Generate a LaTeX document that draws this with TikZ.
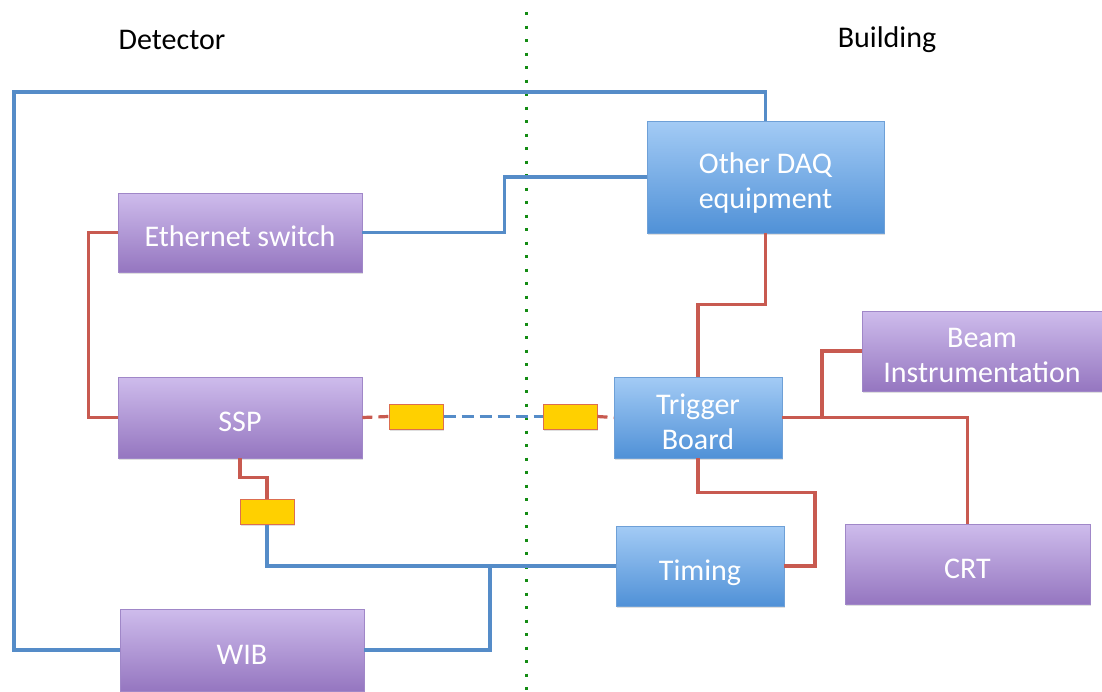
\documentclass[tikz,border=0pt]{standalone}
\usepackage{fontspec}
\setmainfont{Carlito}
\usetikzlibrary{shadows}

\definecolor{purpletop}{RGB}{206,188,236}
\definecolor{purplebot}{RGB}{149,118,192}
\definecolor{purpleedge}{RGB}{160,135,200}
\definecolor{bluetop}{RGB}{163,203,245}
\definecolor{bluebot}{RGB}{80,145,215}
\definecolor{blueedge}{RGB}{110,160,215}
\definecolor{linkred}{RGB}{200,90,80}
\definecolor{linkblue}{RGB}{85,140,200}
\definecolor{splitgreen}{RGB}{20,140,20}
\definecolor{convfill}{RGB}{255,208,0}
\definecolor{convedge}{RGB}{220,110,80}

% box captions sit slightly below the optical centre
\newcommand\boxtext[1]{\raisebox{-7pt}[\height][\depth]{\begin{tabular}{@{}c@{}}#1\end{tabular}}}

\tikzset{
  box/.style={rectangle, inner sep=0pt, text=white, align=center,
    font=\fontsize{30}{35}\selectfont,
    drop shadow={shadow xshift=1pt, shadow yshift=-2pt, opacity=0.25}},
  purplebox/.style={box, draw=purpleedge, line width=0.8pt,
    top color=purpletop, bottom color=purplebot},
  bluebox/.style={box, draw=blueedge, line width=0.8pt,
    top color=bluetop, bottom color=bluebot},
  converter/.style={rectangle, inner sep=0pt, minimum width=54pt, minimum height=25pt,
    fill=convfill, draw=convedge, line width=1pt,
    drop shadow={shadow xshift=1pt, shadow yshift=-1.5pt, opacity=0.25}},
  redlink/.style={draw=linkred, line width=3.2pt},
  bluelink/.style={draw=linkblue, line width=3.2pt},
  sidelabel/.style={font=\fontsize{30}{35}\selectfont, text=black},
}

\begin{document}
\begin{tikzpicture}[x=1pt, y=-1pt]
\useasboundingbox (0,0) rectangle (1102,691);

% side headings and the boundary between them
\node[sidelabel] (detlabel) at (172,40) {Detector};
\node[sidelabel] (bldlabel) at (887,40) {Building};
\draw[splitgreen, line width=3pt, dash pattern=on 3pt off 10.5pt] (526,12) -- (526,691);

% detector-side boards
\node[purplebox, minimum width=244pt, minimum height=79pt] (eth) at (240,232.5) {\boxtext{Ethernet switch}};
\node[purplebox, minimum width=244pt, minimum height=81pt] (ssp) at (240,417.5) {\boxtext{SSP}};
\node[purplebox, minimum width=244pt, minimum height=82pt] (wib) at (242,650) {\boxtext{WIB}};

% building-side equipment
\node[bluebox, minimum width=237pt, minimum height=112pt] (daq) at (765.5,177) {\boxtext{Other DAQ\\equipment}};
\node[bluebox, minimum width=168pt, minimum height=81pt] (trig) at (698,417.5) {\boxtext{Trigger\\Board}};
\node[bluebox, minimum width=168pt, minimum height=80pt] (timing) at (700,566) {\boxtext{Timing}};
\node[purplebox, minimum width=240pt, minimum height=80pt] (beam) at (982,351) {\boxtext{Beam\\Instrumentation}};
\node[purplebox, minimum width=245pt, minimum height=80pt] (crt) at (967.5,564) {\boxtext{CRT}};

% media converters
\node[converter] (conva) at (416,416.5) {};
\node[converter] (convb) at (570,416.5) {};
\node[converter] (convc) at (267,512) {};

% network (blue) links
\coordinate (wibjoin) at (490,566);
\draw[bluelink] (wib.west) -- (14,650) -- (14,92) -| (daq.north);
\draw[bluelink] (eth.east) -- ++(142,0) |- (daq.west);
\draw[bluelink] (convc.south) |- (timing.west);
\draw[bluelink] (wib.east) -| (wibjoin);
\draw[bluelink, dash pattern=on 12pt off 6pt] (conva.east) -- (convb.west);

% trigger/timing (red) links
\draw[redlink] (eth.west) -- ++(-29,0) |- (ssp.west);
\draw[redlink, dash pattern=on 10pt off 6pt] (ssp.east) -- (conva.west);
\draw[redlink, dash pattern=on 10pt off 6pt] (convb.east) -- (trig.west);
\draw[redlink] (ssp.south) -- ++(0,19) -| (convc.north);
\draw[redlink] (daq.south) -- ++(0,71) -| (trig.north);
\coordinate (beamjoin) at (822,417.5);
\draw[redlink] (trig.east) -| (crt.north);
\draw[redlink] (beamjoin) |- (beam.west);
\draw[redlink] (trig.south) -- ++(0,34) -- ++(117,0) |- (timing.east);
\end{tikzpicture}
\end{document}
